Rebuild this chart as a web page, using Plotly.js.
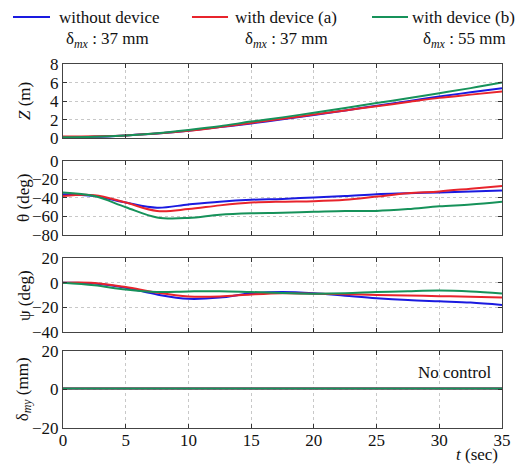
<!DOCTYPE html>
<html>
<head>
<meta charset="utf-8">
<script src="https://cdn.plot.ly/plotly-3.0.1.min.js"></script>
<style>html,body{margin:0;padding:0;background:#fff}#chart{width:526px;height:465px}</style>
</head>
<body>
<div id="chart"></div>
<script>
// time samples (sec)
var t = [0, 2.5, 5, 7.5, 10, 12.5, 15, 17.5, 20, 22.5, 25, 27.5, 30, 32.5, 35];

// Z (m)
var zNo = [0.1, 0.15, 0.3, 0.5, 0.8, 1.2, 1.6, 2.05, 2.5, 3.0, 3.5, 4.0, 4.5, 4.95, 5.4];
var zA  = [0.2, 0.22, 0.3, 0.5, 0.8, 1.2, 1.65, 2.1, 2.55, 3.0, 3.45, 3.9, 4.35, 4.7, 5.05];
var zB  = [0.1, 0.15, 0.3, 0.55, 0.9, 1.3, 1.8, 2.25, 2.75, 3.25, 3.8, 4.3, 4.85, 5.4, 6.0];

// theta (deg)
var thNo = [-36, -38, -45, -50.5, -47, -44, -42, -41, -39.5, -38, -36, -35, -34, -33, -32];
var thA  = [-38, -37, -45, -54, -52, -48, -45, -44, -43.5, -42, -38.5, -35, -33, -30, -27];
var thB  = [-34, -38, -50, -61, -61.5, -58, -56.5, -56, -55, -54, -54, -52, -49, -47, -44];

// psi (deg)
var psNo = [0, -0.5, -4, -9.5, -13, -12, -8.5, -7.5, -8.5, -10.5, -12.5, -14, -15, -16, -18];
var psA  = [0, -0.2, -3.5, -8, -11, -11, -9.5, -8.5, -8.8, -9.3, -9.8, -10.3, -10.8, -11.3, -12];
var psB  = [0, -2, -5.5, -7.5, -7, -6.8, -7.5, -8.2, -8.8, -8.5, -7.5, -6.8, -6.3, -7, -8.6];

// delta_my (mm)
var dmNo = [0.5, 0.5, 0.5, 0.5, 0.5, 0.5, 0.5, 0.5, 0.5, 0.5, 0.5, 0.5, 0.5, 0.5, 0.5];
var dmA  = [0.5, 0.5, 0.5, 0.5, 0.5, 0.5, 0.5, 0.5, 0.5, 0.5, 0.5, 0.5, 0.5, 0.5, 0.5];
var dmB  = [0.5, 0.5, 0.5, 0.5, 0.5, 0.5, 0.5, 0.5, 0.5, 0.5, 0.5, 0.5, 0.5, 0.5, 0.5];

var seriesNames = ['without device', 'with device (a)', 'with device (b)'];
var seriesSub = ['δ<sub><i>mx</i></sub> : 37 mm', 'δ<sub><i>mx</i></sub> : 37 mm', 'δ<sub><i>mx</i></sub> : 55 mm'];
var colors = ['#1a1ae0', '#e8242c', '#16925a'];

var panels = [
  {ys: [zNo, zA, zB], ax: ''},
  {ys: [thNo, thA, thB], ax: '2'},
  {ys: [psNo, psA, psB], ax: '3'},
  {ys: [dmNo, dmA, dmB], ax: '4'}
];

var traces = [];
panels.forEach(function(p) {
  p.ys.forEach(function(y, i) {
    traces.push({
      x: t, y: y, type: 'scatter', mode: 'lines',
      line: {color: colors[i], width: 2, shape: 'spline', smoothing: 1},
      xaxis: 'x' + p.ax, yaxis: 'y' + p.ax, showlegend: false, hoverinfo: 'skip'
    });
  });
});

function F() { return {family: 'Liberation Serif', size: 17, color: '#111'}; }

function xa(anchor, labels) {
  return {
    range: [0, 35], dtick: 5, tick0: 0, anchor: anchor,
    showticklabels: labels, ticks: 'inside', ticklen: 4, tickcolor: '#333',
    ticklabelstandoff: -3,
    showline: true, mirror: 'ticks', linecolor: '#444', linewidth: 1,
    showgrid: true, gridcolor: '#c8c8c8', griddash: 'dot', gridwidth: 1,
    zeroline: false, tickfont: F(), fixedrange: true
  };
}
function ya(anchor, domain, range, dtick) {
  return {
    domain: domain, range: range, dtick: dtick, anchor: anchor,
    ticks: 'inside', ticklen: 4, tickcolor: '#333',
    showline: true, mirror: 'ticks', linecolor: '#444', linewidth: 1,
    showgrid: true, gridcolor: '#c8c8c8', griddash: 'dot', gridwidth: 1,
    zeroline: false, tickfont: F(), fixedrange: true
  };
}

var yTitles = ['<i>Z</i> (m)', 'θ (deg)', 'ψ (deg)', 'δ<sub><i>my</i></sub> (mm)'];
var yCenters = [0.898, 0.632, 0.365, 0.106];

var annotations = [];
yTitles.forEach(function(txt, i) {
  annotations.push({
    text: txt, xref: 'paper', yref: 'paper', x: -0.089, y: yCenters[i],
    xanchor: 'center', yanchor: 'middle', textangle: -90, showarrow: false, font: F()
  });
});
annotations.push({
  text: 'No control', xref: 'x4 domain', yref: 'y4', x: 0.98, y: 9,
  xanchor: 'right', yanchor: 'middle', showarrow: false, font: F()
});
annotations.push({
  text: '<i>t</i> (sec)', xref: 'paper', yref: 'paper', x: 0.995, y: -0.04,
  xanchor: 'right', yanchor: 'top', showarrow: false, font: F()
});

var legTextX = [-0.0137, 0.3872, 0.7904];
var legSubX = [0.1003, 0.508, 0.9157];
var legLine = [[-0.1139, -0.0296], [0.2938, 0.3759], [0.7039, 0.7859]];
var shapes = [];
seriesNames.forEach(function(n, i) {
  annotations.push({
    text: n, xref: 'paper', yref: 'paper', x: legTextX[i], y: 1.127,
    xanchor: 'left', yanchor: 'middle', showarrow: false, font: F()
  });
  annotations.push({
    text: seriesSub[i], xref: 'paper', yref: 'paper', x: legSubX[i], y: 1.066,
    xanchor: 'center', yanchor: 'middle', showarrow: false, font: F()
  });
  shapes.push({
    type: 'line', xref: 'paper', yref: 'paper',
    x0: legLine[i][0], x1: legLine[i][1], y0: 1.129, y1: 1.129,
    line: {color: colors[i], width: 2}
  });
});

var layout = {
  width: 526, height: 465,
  margin: {l: 63, r: 24, t: 64, b: 37},
  paper_bgcolor: '#fff', plot_bgcolor: '#fff',
  font: F(), showlegend: false,
  xaxis: xa('y', false),
  xaxis2: xa('y2', false),
  xaxis3: xa('y3', false),
  xaxis4: xa('y4', true),
  yaxis: ya('x', [0.796, 1], [0, 8], 2),
  yaxis2: ya('x2', [0.530, 0.734], [-80, 0], 20),
  yaxis3: ya('x3', [0.263, 0.467], [-40, 20], 20),
  yaxis4: ya('x4', [0, 0.212], [-20, 20], 20),
  annotations: annotations,
  shapes: shapes
};

Plotly.newPlot('chart', traces, layout, {displayModeBar: false, staticPlot: true});
</script>
</body>
</html>
